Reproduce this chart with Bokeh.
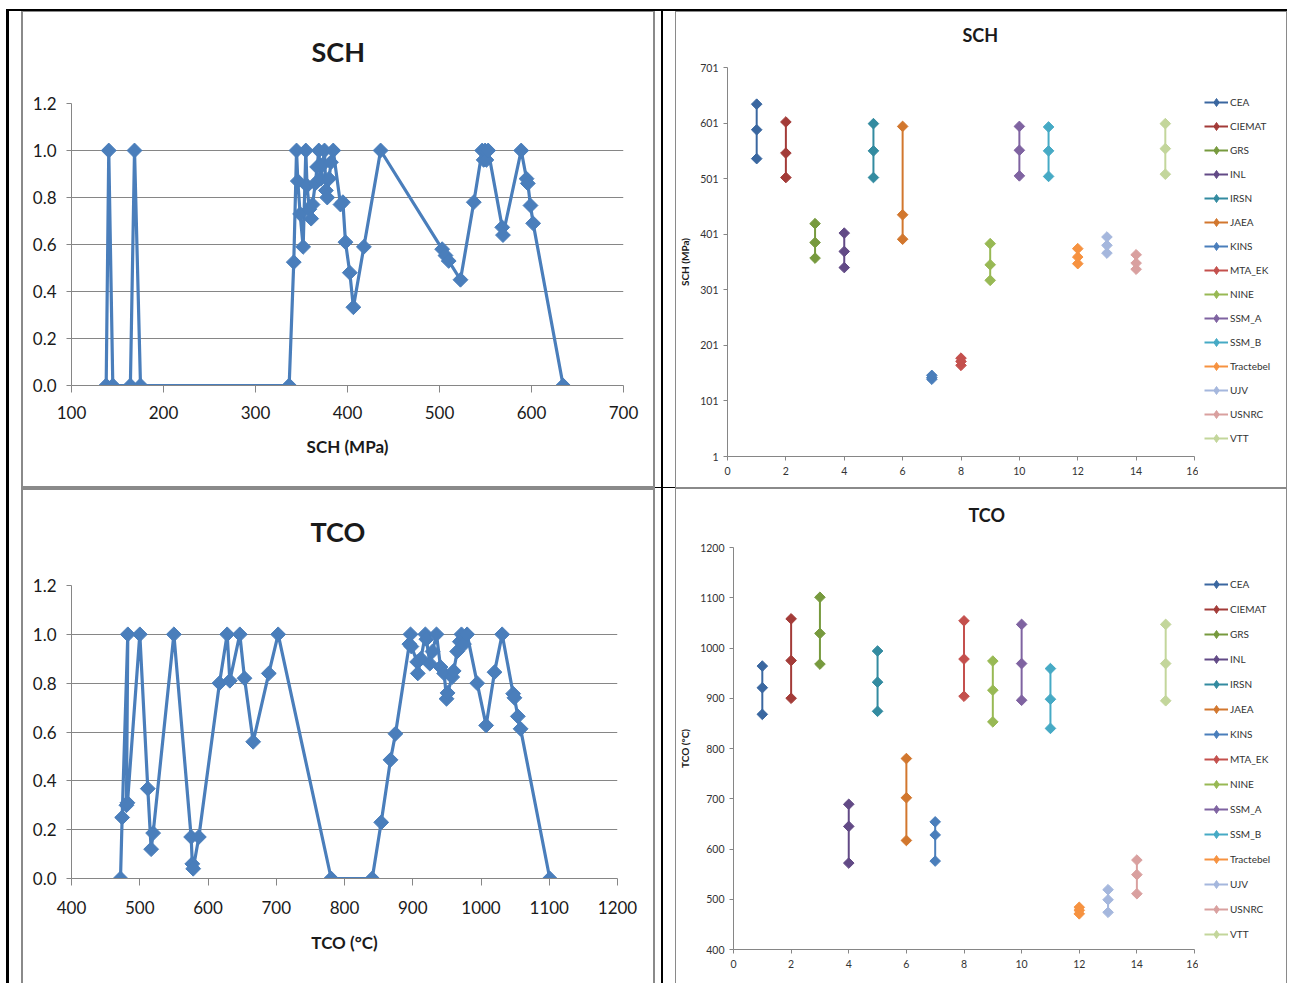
import math
from bokeh.plotting import figure
from bokeh.models import (Spacer, FixedTicker, Legend, LegendItem, Range1d,
                          PrintfTickFormatter)
from bokeh.layouts import row, column
from bokeh.embed import file_html
from bokeh.resources import INLINE

FONT = "Lato"
BLUE = "#4A7EBB"
AXIS_GRAY = "#868686"
TEXT = "#1a1a1a"

# ---------------- left charts: combined curves ----------------
SCH_X = [137.7, 140.5, 144.9, 164.0, 168.5, 175.0, 336.6, 341.6, 344.6, 346.0,
         348.5, 351.8, 354.7, 356.0, 358.5, 360.5, 362.0, 365.0, 367.0, 368.8,
         371.0, 373.0, 375.0, 376.5, 378.0, 380.0, 382.0, 384.5, 392.4, 395.0,
         397.8, 402.5, 406.4, 417.8, 436.0, 502.9, 506.5, 510.0, 522.8, 537.3,
         546.4, 548.0, 549.6, 551.0, 552.9, 568.2, 569.0, 588.8, 594.6, 596.0,
         598.9, 601.8, 634.4]
SCH_Y = [0.0, 1.0, 0.0, 0.0, 1.0, 0.0, 0.0, 0.525, 1.0, 0.87,
         0.73, 0.59, 1.0, 0.85, 0.75, 0.71, 0.77, 0.86, 0.93, 1.0,
         0.88, 0.94, 1.0, 0.83, 0.80, 0.88, 0.95, 1.0, 0.77, 0.78,
         0.61, 0.48, 0.333, 0.59, 1.0, 0.58, 0.553, 0.53, 0.45, 0.78,
         1.0, 0.96, 1.0, 0.96, 1.0, 0.673, 0.64, 1.0, 0.88, 0.86,
         0.766, 0.69, 0.0]

TCO_X = [471.8, 474.2, 482.5, 480.5, 482.0, 500.1, 511.8, 516.7, 519.6, 550.0,
         575.3, 577.0, 578.3, 586.6, 616.8, 628.1, 632.0, 646.6, 653.5, 666.2,
         689.1, 702.8, 780.5, 840.6, 853.8, 867.4, 874.7, 895.0, 896.7, 898.0,
         906.5, 907.4, 912.0, 918.5, 920.0, 925.0, 929.0, 934.8, 940.7, 946.0,
         949.5, 951.0, 957.8, 960.0, 965.1, 969.0, 971.4, 975.0, 979.7, 994.4,
         1007.5, 1019.8, 1031.0, 1047.1, 1049.0, 1054.0, 1058.0, 1100.8]
TCO_Y = [0.0, 0.25, 1.0, 0.30, 0.31, 1.0, 0.368, 0.12, 0.186, 1.0,
         0.17, 0.06, 0.04, 0.17, 0.80, 1.0, 0.81, 1.0, 0.82, 0.56,
         0.84, 1.0, 0.0, 0.0, 0.23, 0.486, 0.593, 0.96, 1.0, 0.95,
         0.887, 0.84, 0.90, 1.0, 0.98, 0.88, 0.93, 1.0, 0.866, 0.84,
         0.736, 0.76, 0.825, 0.85, 0.93, 0.97, 1.0, 0.96, 1.0, 0.80,
         0.627, 0.845, 1.0, 0.757, 0.74, 0.664, 0.613, 0.0]

# ---------------- right charts: per organisation ----------------
ORGS = ["CEA", "CIEMAT", "GRS", "INL", "IRSN", "JAEA", "KINS", "MTA_EK",
        "NINE", "SSM_A", "SSM_B", "Tractebel", "UJV", "USNRC", "VTT"]
ORG_X = [1, 2, 3, 4, 5, 6, 7, 8, 9, 10, 11, 12, 13, 14, 15]
ORG_COLORS = ["#3A67A0", "#A33B38", "#779A3E", "#624A86", "#338BA0", "#D2772E",
              "#4A7EBB", "#C4504D", "#98B954", "#7F63A1", "#46AAC5", "#F69240",
              "#A5B7DD", "#D9A09F", "#C3D69B"]
SCH_LOW = [537, 503, 358, 341, 503, 392, 140, 165, 318, 506, 505, 348, 367, 338, 509]
SCH_MID = [589, 547, 386, 370, 551, 436, 143, 172, 346, 552, 551, 360, 381, 349, 555]
SCH_HIGH = [635, 603, 420, 403, 600, 595, 147, 178, 384, 595, 594, 375, 396, 364, 600]
TCO_LOW = [868, 900, 968, 572, 874, 617, 576, 904, 853, 896, 840, 471, 474, 511, 895]
TCO_MID = [921, 975, 1029, 645, 932, 702, 628, 978, 916, 969, 898, 478, 499, 549, 969]
TCO_HIGH = [964, 1058, 1101, 689, 994, 780, 654, 1054, 974, 1047, 959, 484, 519, 578, 1047]

SCH_LEFT_TICKS = [100, 200, 300, 400, 500, 600, 700]
TCO_LEFT_TICKS = [400, 500, 600, 700, 800, 900, 1000, 1100, 1200]
PROB_TICKS = [0.0, 0.2, 0.4, 0.6, 0.8, 1.0, 1.2]
ORG_TICKS = [0, 2, 4, 6, 8, 10, 12, 14, 16]
SCH_RIGHT_TICKS = [1, 101, 201, 301, 401, 501, 601, 701]
TCO_RIGHT_TICKS = [400, 500, 600, 700, 800, 900, 1000, 1100, 1200]


def style_axis(ax, size, tick_out, standoff, color=TEXT):
    ax.axis_line_color = AXIS_GRAY
    ax.axis_line_width = 1
    ax.major_tick_line_color = AXIS_GRAY
    ax.major_tick_out = tick_out
    ax.major_tick_in = 0
    ax.minor_tick_line_color = None
    ax.major_label_text_font = FONT
    ax.major_label_text_font_size = size
    ax.major_label_text_color = color
    ax.major_label_standoff = standoff


def add_title(p, text, size, offset, standoff):
    # trailing empty line lifts the title away from the plot area
    p.title.text = text + "\n"
    p.title.align = "left"
    p.title.offset = offset
    p.title.standoff = standoff
    p.title.text_font = FONT
    p.title.text_font_style = "bold"
    p.title.text_font_size = size
    p.title.text_color = TEXT


def left_fig(xs, ys, xr, xticks, title, xlabel, w, h, mbl, mbr, mbt, mbb,
             t_standoff, t_offset, tick_sd, lab_sd):
    p = figure(width=w, height=h, x_range=Range1d(*xr), y_range=Range1d(0, 1.2),
               output_backend="svg", toolbar_location=None,
               min_border_left=mbl, min_border_right=mbr,
               min_border_top=mbt, min_border_bottom=mbb, margin=0)
    p.outline_line_color = None
    p.xaxis.ticker = FixedTicker(ticks=xticks)
    p.yaxis.ticker = FixedTicker(ticks=PROB_TICKS)
    p.ygrid.ticker = FixedTicker(ticks=PROB_TICKS)
    p.yaxis.formatter = PrintfTickFormatter(format="%.1f")
    p.xgrid.visible = False
    p.ygrid.grid_line_color = AXIS_GRAY
    p.ygrid.grid_line_width = 1
    style_axis(p.xaxis[0], "17px", 7, tick_sd)
    style_axis(p.yaxis[0], "17px", 5, 10)
    p.xaxis.axis_label = xlabel
    p.xaxis.axis_label_text_font = FONT
    p.xaxis.axis_label_text_font_style = "bold"
    p.xaxis.axis_label_text_font_size = "17px"
    p.xaxis.axis_label_text_color = TEXT
    p.xaxis.axis_label_standoff = lab_sd
    p.line(xs, ys, line_color=BLUE, line_width=3.2)
    p.scatter(xs, ys, marker="square", angle=math.pi / 4, size=10.5,
              fill_color=BLUE, line_color=BLUE)
    add_title(p, title, "27px", t_offset, t_standoff)
    return p


def right_fig(low, mid, high, yr, yticks, title, ylabel, w, h, mbl, mbr, mbt, mbb,
              t_standoff, t_offset):
    p = figure(width=w, height=h, x_range=Range1d(0, 16), y_range=Range1d(*yr),
               output_backend="svg", toolbar_location=None,
               min_border_left=mbl, min_border_right=mbr,
               min_border_top=mbt, min_border_bottom=mbb, margin=0)
    p.outline_line_color = None
    p.grid.visible = False
    p.xaxis.ticker = FixedTicker(ticks=ORG_TICKS)
    p.yaxis.ticker = FixedTicker(ticks=yticks)
    style_axis(p.xaxis[0], "10.5px", 4, 6, "#333333")
    style_axis(p.yaxis[0], "10.5px", 4, 5, "#333333")
    p.yaxis.axis_label = ylabel
    p.yaxis.axis_label_text_font = FONT
    p.yaxis.axis_label_text_font_style = "bold"
    p.yaxis.axis_label_text_font_size = "10px"
    p.yaxis.axis_label_text_color = TEXT
    p.yaxis.axis_label_standoff = 6
    for i, name in enumerate(ORGS):
        xs = [ORG_X[i]] * 3
        ys = [low[i], mid[i], high[i]]
        c = ORG_COLORS[i]
        p.line(xs, ys, line_color=c, line_width=2)
        p.scatter(xs, ys, marker="square", angle=math.pi / 4, size=7.5,
                  fill_color=c, line_color=c)
    add_title(p, title, "18px", t_offset, t_standoff)
    return p


def legend_fig(low, mid, high, w, h, vy, leg_h, leg_sp):
    # narrow canvas to the right of the plot that holds only the legend
    p = figure(width=w, height=h, x_range=Range1d(0, 16), y_range=Range1d(0, 1),
               output_backend="svg", toolbar_location=None,
               x_axis_type=None, y_axis_type=None,
               min_border_left=0, min_border_right=0,
               min_border_top=0, min_border_bottom=0, margin=0)
    p.outline_line_color = None
    p.grid.visible = False
    items = []
    for i, name in enumerate(ORGS):
        xs = [ORG_X[i]] * 3
        ys = [low[i], mid[i], high[i]]
        c = ORG_COLORS[i]
        lr = p.line(xs, ys, line_color=c, line_width=2, visible=False)
        sr = p.scatter(xs, ys, marker="diamond", size=9, fill_color=c,
                       line_color=c, visible=False)
        items.append(LegendItem(label=name, renderers=[lr, sr]))
    leg = Legend(items=items, location=(6, vy), border_line_color=None,
                 background_fill_alpha=0, padding=0, margin=0,
                 inactive_fill_alpha=0,
                 spacing=leg_sp, glyph_height=leg_h, label_height=leg_h,
                 glyph_width=24, label_standoff=2,
                 label_text_font=FONT, label_text_font_size="10px",
                 label_text_color="#333333")
    p.add_layout(leg)
    return p


def bar(w, h, color=None):
    s = Spacer(width=w, height=h, margin=0)
    if color:
        s.styles = {"background-color": color}
    return s


FRAME = "#8a8a8a"

p_tl = left_fig(SCH_X, SCH_Y, (100, 700), SCH_LEFT_TICKS, "SCH", "SCH (MPa)",
                630, 474, 48, 30, 91, 101, 5, 240, 13, 14)
p_bl = left_fig(TCO_X, TCO_Y, (400, 1200), TCO_LEFT_TICKS, "TCO", "TCO (°C)",
                630, 493, 48, 36, 95, 105, 10, 239, 15, 15)
p_tr = right_fig(SCH_LOW, SCH_MID, SCH_HIGH, (1, 701), SCH_RIGHT_TICKS, "SCH",
                 "SCH (MPa)", 522, 475, 48, 4, 55, 31, 0, 235)
p_br = right_fig(TCO_LOW, TCO_MID, TCO_HIGH, (400, 1200), TCO_RIGHT_TICKS, "TCO",
                 "TCO (°C)", 522, 494, 48, 4, 58, 34, 0, 235)
l_tr = legend_fig(SCH_LOW, SCH_MID, SCH_HIGH, 88, 475, 8, 20, 4)
l_br = legend_fig(TCO_LOW, TCO_MID, TCO_HIGH, 88, 494, 5, 20, 5)

left_col = column(
    bar(634, 1, FRAME),
    row(bar(2, 474, FRAME), p_tl, bar(2, 474, FRAME), margin=0),
    bar(634, 2, FRAME),
    bar(634, 2, FRAME),
    row(bar(2, 493, FRAME), p_bl, bar(2, 493, FRAME), margin=0),
    margin=0)

gap_col = column(
    row(bar(6, 476), bar(2, 476, "black"), bar(12, 476), margin=0),
    bar(20, 1, "black"),
    row(bar(6, 495), bar(2, 495, "black"), bar(12, 495), margin=0),
    margin=0)

right_col = column(
    bar(612, 1, FRAME),
    row(bar(1, 475, FRAME), p_tr, l_tr, bar(1, 475, FRAME), margin=0),
    bar(612, 1, FRAME),
    bar(612, 1, FRAME),
    row(bar(1, 494, FRAME), p_br, l_br, bar(1, 494, FRAME), margin=0),
    margin=0)

root = column(
    bar(1295, 9),
    row(bar(6, 2), bar(1281, 2, "black"), margin=0),
    row(bar(6, 972), bar(3, 972, "black"), bar(12, 972), left_col, gap_col,
        right_col, margin=0),
    margin=0)

open("out.html", "w").write(file_html(root, INLINE))
